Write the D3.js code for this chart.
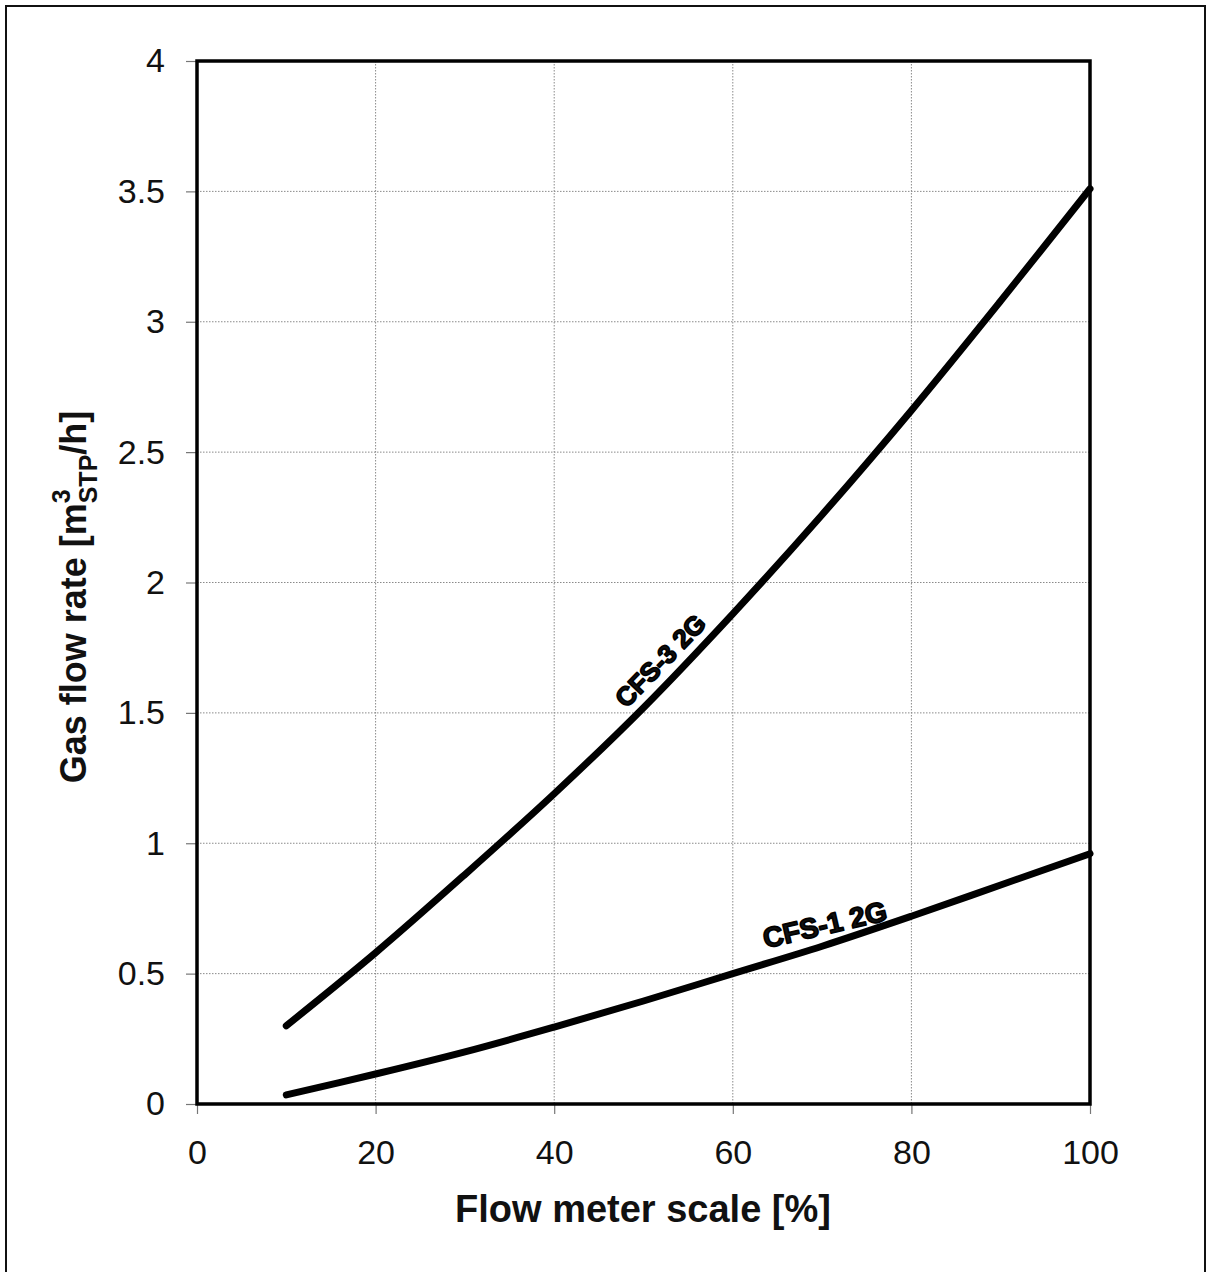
<!DOCTYPE html>
<html>
<head>
<meta charset="utf-8">
<script src="https://cdn.jsdelivr.net/npm/d3@7"></script>
<style>
  html, body { margin: 0; padding: 0; background: #fff; }
  svg { display: block; }
  text { font-family: "Liberation Sans", Arial, sans-serif; fill: #111; }
</style>
</head>
<body>
<svg id="chart" width="1208" height="1272"></svg>
<script>
// Flow meter scale readings (%)
const scalePct = [10, 20, 30, 40, 50, 60, 70, 80, 90, 100];
// Gas flow rate (m3 STP / h) for each flow meter model
const cfs3 = [0.30, 0.58, 0.88, 1.19, 1.52, 1.88, 2.26, 2.66, 3.08, 3.51];
const cfs1 = [0.035, 0.115, 0.20, 0.295, 0.395, 0.50, 0.605, 0.72, 0.84, 0.96];
const seriesNames = ["CFS-3 2G", "CFS-1 2G"];
// Axis ticks
const xTicks = [0, 20, 40, 60, 80, 100];
const yTicks = [0, 0.5, 1, 1.5, 2, 2.5, 3, 3.5, 4];

const svg = d3.select("#chart");
const W = 1208, H = 1272;
const plot = { left: 197, top: 61, right: 1090, bottom: 1104 };

// Outer frame (open at the bottom edge of the page)
svg.append("path")
  .attr("d", `M6,${H + 5} L6,6 L1205,6 L1205,${H + 5}`)
  .attr("fill", "none").attr("stroke", "#111").attr("stroke-width", 2);

const x = d3.scaleLinear().domain([0, 100]).range([plot.left, plot.right]);
const y = d3.scaleLinear().domain([0, 4]).range([plot.bottom, plot.top]);

// Dotted grid
const grid = svg.append("g").attr("stroke", "#8a8a8a").attr("stroke-width", 1)
  .attr("stroke-dasharray", "1.5,1.5");
grid.selectAll("line.gx").data(xTicks.slice(1, -1)).join("line")
  .attr("x1", d => x(d)).attr("x2", d => x(d))
  .attr("y1", plot.top).attr("y2", plot.bottom);
grid.selectAll("line.gy").data(yTicks.slice(1, -1)).join("line")
  .attr("y1", d => y(d)).attr("y2", d => y(d))
  .attr("x1", plot.left).attr("x2", plot.right);

// Axes with short outward ticks
const xAxis = d3.axisBottom(x).tickValues(xTicks).tickSize(10).tickPadding(26)
  .tickFormat(d3.format("d"));
const yAxis = d3.axisLeft(y).tickValues(yTicks).tickSize(11).tickPadding(21)
  .tickFormat(d => String(d));

const gx = svg.append("g").attr("transform", `translate(0,${plot.bottom})`).call(xAxis);
const gy = svg.append("g").attr("transform", `translate(${plot.left},0)`).call(yAxis);
[gx, gy].forEach(g => {
  g.select(".domain").remove();
  g.selectAll(".tick line").attr("stroke", "#777").attr("stroke-width", 1.2);
  g.selectAll(".tick text").attr("font-size", 34).attr("fill", "#111")
    .style("font-family", "'Liberation Sans', Arial, sans-serif");
});
gx.selectAll(".tick text").attr("dy", "0.71em");

// Heavy plot frame
svg.append("rect")
  .attr("x", plot.left).attr("y", plot.top)
  .attr("width", plot.right - plot.left).attr("height", plot.bottom - plot.top)
  .attr("fill", "none").attr("stroke", "#000").attr("stroke-width", 3.5);

// Curves
const line = d3.line()
  .x((d, i) => x(scalePct[i]))
  .y(d => y(d))
  .curve(d3.curveCatmullRom);

svg.selectAll("path.series").data([cfs3, cfs1]).join("path")
  .attr("class", "series")
  .attr("d", line)
  .attr("fill", "none").attr("stroke", "#000").attr("stroke-width", 7)
  .attr("stroke-linecap", "round").attr("stroke-linejoin", "round");

// Curve labels
const labelStyle = (sel, size) => sel
  .attr("font-size", size).attr("font-weight", 900)
  .attr("fill", "#000").attr("stroke", "#000").attr("stroke-width", 1.7)
  .attr("stroke-linejoin", "round")
  .attr("text-anchor", "middle")
  .style("font-family", "'Liberation Sans', Arial, sans-serif");

svg.append("text").text(seriesNames[0])
  .attr("transform", `translate(667,667) rotate(-46)`)
  .call(labelStyle, 26);
svg.append("text").text(seriesNames[1])
  .attr("transform", `translate(827,934) rotate(-13)`)
  .call(labelStyle, 28);

// Axis titles
svg.append("text")
  .attr("x", 643).attr("y", 1222)
  .attr("text-anchor", "middle").attr("font-size", 38).attr("font-weight", "bold")
  .text("Flow meter scale [%]");

const yt = svg.append("text")
  .attr("transform", `translate(86,597) rotate(-90)`)
  .attr("text-anchor", "middle").attr("font-size", 36).attr("font-weight", "bold");
yt.append("tspan").text("Gas flow rate [m");
yt.append("tspan").text("3").attr("font-size", 25).attr("dy", -16);
yt.append("tspan").text("STP").attr("font-size", 25).attr("dx", -14).attr("dy", 27);
yt.append("tspan").text("/h]").attr("dy", -11);
</script>
</body>
</html>
